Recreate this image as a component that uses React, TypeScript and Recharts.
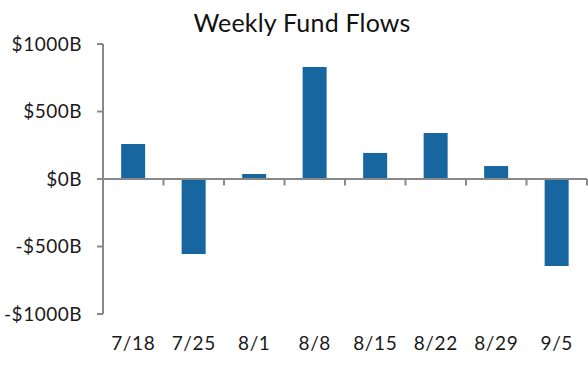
import React from "react";
import { BarChart, Bar, XAxis, YAxis, ReferenceLine } from "recharts";

const categories = ["7/18", "7/25", "8/1", "8/8", "8/15", "8/22", "8/29", "9/5"];
const flows = [260, -555, 37, 830, 193, 340, 96, -644];
const yTicks = [-1000, -500, 0, 500, 1000];

const data = categories.map((c, i) => ({ week: c, flow: flows[i] }));

const FONT = "Lato, 'Open Sans', sans-serif";
const AXIS = "#888888";
const BAR = "#1866a0";

const fmt = (v: number) => (v < 0 ? `-$${Math.abs(v)}B` : `$${v}B`);

export default function App() {
  return (
    <div style={{ position: "absolute", left: 0, top: 0, width: 588, height: 376, background: "#fff" }}>
      <div
        style={{
          position: "absolute",
          left: 0,
          width: 604,
          top: 6,
          textAlign: "center",
          fontFamily: FONT,
          fontSize: 25,
          letterSpacing: 0.2,
          color: "#111",
          lineHeight: "32px",
        }}
      >
        Weekly Fund Flows
      </div>
      <BarChart
        width={588}
        height={376}
        data={data}
        margin={{ top: 44, right: 1, bottom: 0, left: 0 }}
        barCategoryGap="30%"
      >
        <XAxis
          dataKey="week"
          height={62}
          axisLine={false}
          tickLine={false}
          tickSize={8}
          tickMargin={15}
          interval={0}
          tick={{ fill: "#1a1a1a", fontSize: 19, fontFamily: FONT, letterSpacing: 0.6 }}
        />
        <YAxis
          width={103}
          domain={[-1000, 1000]}
          ticks={yTicks}
          tickFormatter={fmt}
          axisLine={{ stroke: AXIS, strokeWidth: 2 }}
          tickLine={{ stroke: AXIS, strokeWidth: 2 }}
          tickSize={6}
          tickMargin={15}
          interval={0}
          tick={{ fill: "#1a1a1a", fontSize: 19, fontFamily: FONT, letterSpacing: 0.5 }}
        />
        <Bar dataKey="flow" fill={BAR} isAnimationActive={false} />
        <ReferenceLine y={0} stroke={AXIS} strokeWidth={2} />
        {categories.map((c) => (
          <ReferenceLine
            key={c}
            position="end"
            segment={[
              { x: c, y: 0 },
              { x: c, y: -48 },
            ]}
            stroke={AXIS}
            strokeWidth={2}
          />
        ))}
      </BarChart>
    </div>
  );
}
